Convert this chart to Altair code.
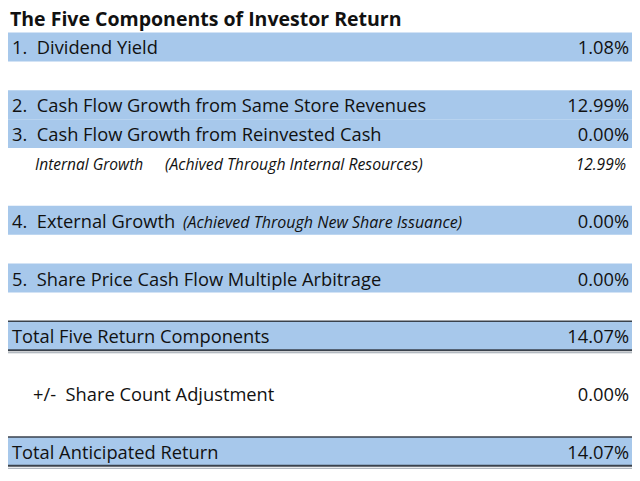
import altair as alt
import pandas as pd

# spreadsheet rows (row 0 = title row)
title = "The Five Components of Investor Return"

label_rows = [1, 3, 4, 7, 9, 11, 13, 15]
labels = [
    "1.  Dividend Yield",
    "2.  Cash Flow Growth from Same Store Revenues",
    "3.  Cash Flow Growth from Reinvested Cash",
    "4.  External Growth",
    "5.  Share Price Cash Flow Multiple Arbitrage",
    "Total Five Return Components",
    "+/-  Share Count Adjustment",
    "Total Anticipated Return",
]
values = ["1.08%", "12.99%", "0.00%", "0.00%", "0.00%", "14.07%", "0.00%", "14.07%"]

sub_row = 5
sub_label = "Internal Growth"
sub_note = "(Achived Through Internal Resources)"
sub_value = "12.99%"

ext_row = 7
ext_note = "(Achieved Through New Share Issuance)"

shaded_rows = [1, 3, 4, 7, 9, 11, 15]
total_rows = [11, 15]

FONT = "Open Sans"
INK = "#111111"
BAND = "#A7C8EB"

# keep the double spaces of the sheet (svg collapses plain ones)
df_lab = pd.DataFrame({"row": label_rows, "value": values})
df_lab["label"] = [s.replace("  ", " \u00a0") for s in labels]
df_lab["indent"] = df_lab["label"].str.startswith("+/-")
df_band = pd.DataFrame({"row": shaded_rows})
df_band["lo"] = df_band["row"] - 0.5
df_band["hi"] = df_band["row"] + 0.5
df_tot = pd.DataFrame({"row": total_rows})
df_tot["lo"] = df_tot["row"] - 0.5
df_tot["hi"] = df_tot["row"] + 0.5

yscale = alt.Scale(domain=[15.75, -0.35], nice=False, zero=False)


def Y(field):
    return alt.Y(field + ":Q", scale=yscale, axis=None)


bands = alt.Chart(df_band).mark_rect(color=BAND).encode(
    x=alt.value(0), x2=alt.value(626), y=Y("lo"), y2="hi"
)

top_rule = alt.Chart(df_tot).mark_rule(color="#3a424c", strokeWidth=1.5).encode(
    x=alt.value(0), x2=alt.value(626), y=Y("lo")
)
bot_rule = alt.Chart(df_tot).mark_rule(color="#3a424c", strokeWidth=2).encode(
    x=alt.value(0), x2=alt.value(626), y=Y("hi")
)
bot_rule2 = alt.Chart(df_tot).mark_rule(color="#9aa3ad", strokeWidth=1, yOffset=2.5).encode(
    x=alt.value(0), x2=alt.value(626), y=Y("hi")
)

title_txt = alt.Chart(pd.DataFrame({"row": [0], "t": [title]})).mark_text(
    font=FONT, fontSize=19.5, fontWeight="bold", align="left", baseline="middle",
    color=INK, dy=2
).encode(x=alt.value(2), y=Y("row"), text="t:N")

main_txt = alt.Chart(df_lab[~df_lab["indent"]]).mark_text(
    font=FONT, fontSize=18.3, align="left", baseline="middle", color=INK, dy=2.5
).encode(x=alt.value(4), y=Y("row"), text="label:N")

indent_txt = alt.Chart(df_lab[df_lab["indent"]]).mark_text(
    font=FONT, fontSize=18.3, align="left", baseline="middle", color=INK, dy=2.5
).encode(x=alt.value(25), y=Y("row"), text="label:N")

val_txt = alt.Chart(df_lab).mark_text(
    font=FONT, fontSize=18.3, align="right", baseline="middle", color=INK, dy=2.5
).encode(x=alt.value(621), y=Y("row"), text="value:N")

df_sub = pd.DataFrame({"row": [sub_row], "a": [sub_label], "b": [sub_note], "v": [sub_value]})
sub_a = alt.Chart(df_sub).mark_text(
    font=FONT, fontSize=15.5, fontStyle="italic", align="left", baseline="middle", color=INK, dy=2.5
).encode(x=alt.value(27), y=Y("row"), text="a:N")
sub_b = alt.Chart(df_sub).mark_text(
    font=FONT, fontSize=15.8, fontStyle="italic", align="left", baseline="middle", color=INK, dy=2.5
).encode(x=alt.value(157), y=Y("row"), text="b:N")
sub_v = alt.Chart(df_sub).mark_text(
    font=FONT, fontSize=15.5, fontStyle="italic", align="right", baseline="middle", color=INK, dy=2.5
).encode(x=alt.value(618), y=Y("row"), text="v:N")

ext_txt = alt.Chart(pd.DataFrame({"row": [ext_row], "n": [ext_note]})).mark_text(
    font=FONT, fontSize=16, fontStyle="italic", align="left", baseline="middle", color=INK, dy=2.5
).encode(x=alt.value(175), y=Y("row"), text="n:N")

chart = alt.layer(
    bands, top_rule, bot_rule, bot_rule2,
    title_txt, main_txt, indent_txt, val_txt,
    sub_a, sub_b, sub_v, ext_txt,
).properties(
    width=624, height=465, padding=0,
    autosize=alt.AutoSizeParams(type="none"),
).configure_view(stroke=None)

chart.save("out.html", embed_options={"renderer": "svg", "actions": False})
